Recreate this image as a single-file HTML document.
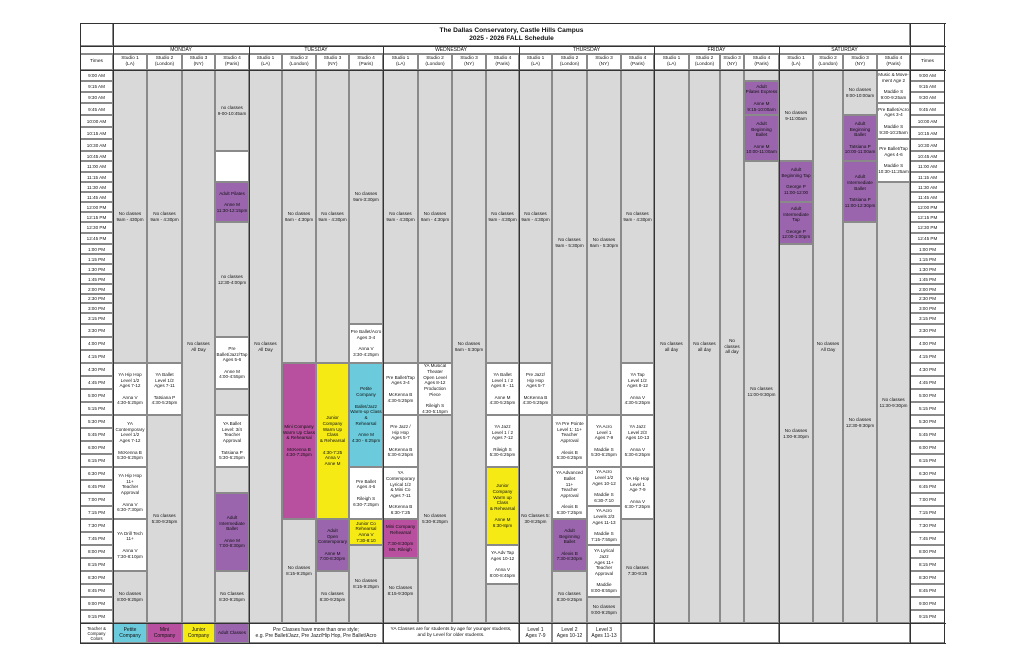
<!DOCTYPE html>
<html><head><meta charset="utf-8"><style>
*{margin:0;padding:0;box-sizing:border-box}
body{width:1024px;height:663px;background:#fff;position:relative;overflow:hidden;font-family:"Liberation Sans",sans-serif;color:#111}
.b{position:absolute;border:0.6px solid #8a8a8a;display:flex;align-items:center;justify-content:center;text-align:center;font-size:4.6px;line-height:5.7px;overflow:hidden}
.g{background:#d9d9d9}.w{background:#fff}.p{background:#9a65ad}.m{background:#b8509f}.y{background:#f5ea14}.c{background:#6bcbdc}
.t{position:absolute;border:0.6px solid #8a8a8a;background:#fff;display:flex;align-items:center;justify-content:center;font-size:4.6px}
.h{position:absolute;display:flex;align-items:center;justify-content:center;text-align:center;font-size:4.8px;line-height:5.6px;border:0.6px solid #8a8a8a;background:#fff}
.d{position:absolute;top:46.5px;height:7px;line-height:7px;font-size:5px;text-align:center;z-index:5}
.v{position:absolute;width:1.4px;background:#333;z-index:6}
.hz{position:absolute;height:1.4px;background:#333;z-index:6}
</style></head><body>
<!-- title -->
<div class="h" style="left:80px;top:23px;width:33px;height:23px"></div>
<div class="h" style="left:113px;top:23px;width:797px;height:23px;font-size:6.6px;line-height:8px;font-weight:bold">The Dallas Conservatory, Castle Hills Campus<br>2025 - 2026 FALL Schedule</div>
<div class="h" style="left:910px;top:23px;width:35px;height:23px"></div>
<!-- day row -->
<div class="h" style="left:80px;top:46px;width:865px;height:7.5px"></div>
<div class="d" style="left:113px;width:136px">MONDAY</div>
<div class="d" style="left:249px;width:134px">TUESDAY</div>
<div class="d" style="left:383px;width:136px">WEDNESDAY</div>
<div class="d" style="left:519px;width:135px">THURSDAY</div>
<div class="d" style="left:654px;width:125px">FRIDAY</div>
<div class="d" style="left:779px;width:131px">SATURDAY</div>
<!-- studio row -->
<div class="h" style="left:80px;top:53.5px;width:33px;height:16.5px">Times</div>
<div class="h" style="left:113px;top:53.5px;width:34px;height:16.5px">Studio 1<br>(LA)</div>
<div class="h" style="left:147px;top:53.5px;width:35px;height:16.5px">Studio 2<br>(London)</div>
<div class="h" style="left:182px;top:53.5px;width:33px;height:16.5px">Studio 3<br>(NY)</div>
<div class="h" style="left:215px;top:53.5px;width:34px;height:16.5px">Studio 4<br>(Paris)</div>
<div class="h" style="left:249px;top:53.5px;width:33px;height:16.5px">Studio 1<br>(LA)</div>
<div class="h" style="left:282px;top:53.5px;width:34px;height:16.5px">Studio 2<br>(London)</div>
<div class="h" style="left:316px;top:53.5px;width:33px;height:16.5px">Studio 3<br>(NY)</div>
<div class="h" style="left:349px;top:53.5px;width:34px;height:16.5px">Studio 4<br>(Paris)</div>
<div class="h" style="left:383px;top:53.5px;width:35px;height:16.5px">Studio 1<br>(LA)</div>
<div class="h" style="left:418px;top:53.5px;width:34px;height:16.5px">Studio 2<br>(London)</div>
<div class="h" style="left:452px;top:53.5px;width:34px;height:16.5px">Studio 3<br>(NY)</div>
<div class="h" style="left:486px;top:53.5px;width:33px;height:16.5px">Studio 4<br>(Paris)</div>
<div class="h" style="left:519px;top:53.5px;width:33px;height:16.5px">Studio 1<br>(LA)</div>
<div class="h" style="left:552px;top:53.5px;width:35px;height:16.5px">Studio 2<br>(London)</div>
<div class="h" style="left:587px;top:53.5px;width:34px;height:16.5px">Studio 3<br>(NY)</div>
<div class="h" style="left:621px;top:53.5px;width:33px;height:16.5px">Studio 4<br>(Paris)</div>
<div class="h" style="left:654px;top:53.5px;width:35px;height:16.5px">Studio 1<br>(LA)</div>
<div class="h" style="left:689px;top:53.5px;width:31px;height:16.5px">Studio 2<br>(London)</div>
<div class="h" style="left:720px;top:53.5px;width:24px;height:16.5px">Studio 3<br>(NY)</div>
<div class="h" style="left:744px;top:53.5px;width:35px;height:16.5px">Studio 4<br>(Paris)</div>
<div class="h" style="left:779px;top:53.5px;width:34px;height:16.5px">Studio 1<br>(LA)</div>
<div class="h" style="left:813px;top:53.5px;width:30px;height:16.5px">Studio 2<br>(London)</div>
<div class="h" style="left:843px;top:53.5px;width:34px;height:16.5px">Studio 3<br>(NY)</div>
<div class="h" style="left:877px;top:53.5px;width:33px;height:16.5px">Studio 4<br>(Paris)</div>
<div class="h" style="left:910px;top:53.5px;width:35px;height:16.5px">Times</div>

<!-- times left -->
<div class="t" style="left:80px;top:70px;width:33px;height:11px">9:00 AM</div>
<div class="t" style="left:80px;top:81px;width:33px;height:11px">9:15 AM</div>
<div class="t" style="left:80px;top:92px;width:33px;height:11px">9:30 AM</div>
<div class="t" style="left:80px;top:103px;width:33px;height:12px">9:45 AM</div>
<div class="t" style="left:80px;top:115px;width:33px;height:12px">10:00 AM</div>
<div class="t" style="left:80px;top:127px;width:33px;height:12px">10:15 AM</div>
<div class="t" style="left:80px;top:139px;width:33px;height:12px">10:30 AM</div>
<div class="t" style="left:80px;top:151px;width:33px;height:10px">10:45 AM</div>
<div class="t" style="left:80px;top:161px;width:33px;height:11px">11:00 AM</div>
<div class="t" style="left:80px;top:172px;width:33px;height:10px">11:15 AM</div>
<div class="t" style="left:80px;top:182px;width:33px;height:10px">11:30 AM</div>
<div class="t" style="left:80px;top:192px;width:33px;height:10px">11:45 AM</div>
<div class="t" style="left:80px;top:202px;width:33px;height:10px">12:00 PM</div>
<div class="t" style="left:80px;top:212px;width:33px;height:10px">12:15 PM</div>
<div class="t" style="left:80px;top:222px;width:33px;height:11px">12:30 PM</div>
<div class="t" style="left:80px;top:233px;width:33px;height:11px">12:45 PM</div>
<div class="t" style="left:80px;top:244px;width:33px;height:10px">1:00 PM</div>
<div class="t" style="left:80px;top:254px;width:33px;height:10px">1:15 PM</div>
<div class="t" style="left:80px;top:264px;width:33px;height:10px">1:30 PM</div>
<div class="t" style="left:80px;top:274px;width:33px;height:10px">1:45 PM</div>
<div class="t" style="left:80px;top:284px;width:33px;height:10px">2:00 PM</div>
<div class="t" style="left:80px;top:294px;width:33px;height:9px">2:30 PM</div>
<div class="t" style="left:80px;top:303px;width:33px;height:10px">3:00 PM</div>
<div class="t" style="left:80px;top:313px;width:33px;height:11px">3:15 PM</div>
<div class="t" style="left:80px;top:324px;width:33px;height:13px">3:30 PM</div>
<div class="t" style="left:80px;top:337px;width:33px;height:13px">4:00 PM</div>
<div class="t" style="left:80px;top:350px;width:33px;height:13px">4:15 PM</div>
<div class="t" style="left:80px;top:363px;width:33px;height:13px">4:30 PM</div>
<div class="t" style="left:80px;top:376px;width:33px;height:13px">4:45 PM</div>
<div class="t" style="left:80px;top:389px;width:33px;height:13px">5:00 PM</div>
<div class="t" style="left:80px;top:402px;width:33px;height:13px">5:15 PM</div>
<div class="t" style="left:80px;top:415px;width:33px;height:13px">5:30 PM</div>
<div class="t" style="left:80px;top:428px;width:33px;height:13px">5:45 PM</div>
<div class="t" style="left:80px;top:441px;width:33px;height:13px">6:00 PM</div>
<div class="t" style="left:80px;top:454px;width:33px;height:13px">6:15 PM</div>
<div class="t" style="left:80px;top:467px;width:33px;height:13px">6:30 PM</div>
<div class="t" style="left:80px;top:480px;width:33px;height:13px">6:45 PM</div>
<div class="t" style="left:80px;top:493px;width:33px;height:13px">7:00 PM</div>
<div class="t" style="left:80px;top:506px;width:33px;height:13px">7:15 PM</div>
<div class="t" style="left:80px;top:519px;width:33px;height:13px">7:30 PM</div>
<div class="t" style="left:80px;top:532px;width:33px;height:13px">7:45 PM</div>
<div class="t" style="left:80px;top:545px;width:33px;height:13px">8:00 PM</div>
<div class="t" style="left:80px;top:558px;width:33px;height:13px">8:15 PM</div>
<div class="t" style="left:80px;top:571px;width:33px;height:13px">8:30 PM</div>
<div class="t" style="left:80px;top:584px;width:33px;height:13px">8:45 PM</div>
<div class="t" style="left:80px;top:597px;width:33px;height:13px">9:00 PM</div>
<div class="t" style="left:80px;top:610px;width:33px;height:13px">9:15 PM</div>
<!-- times right -->
<div class="t" style="left:910px;top:70px;width:35px;height:11px">9:00 AM</div>
<div class="t" style="left:910px;top:81px;width:35px;height:11px">9:15 AM</div>
<div class="t" style="left:910px;top:92px;width:35px;height:11px">9:30 AM</div>
<div class="t" style="left:910px;top:103px;width:35px;height:12px">9:45 AM</div>
<div class="t" style="left:910px;top:115px;width:35px;height:12px">10:00 AM</div>
<div class="t" style="left:910px;top:127px;width:35px;height:12px">10:15 AM</div>
<div class="t" style="left:910px;top:139px;width:35px;height:12px">10:30 AM</div>
<div class="t" style="left:910px;top:151px;width:35px;height:10px">10:45 AM</div>
<div class="t" style="left:910px;top:161px;width:35px;height:11px">11:00 AM</div>
<div class="t" style="left:910px;top:172px;width:35px;height:10px">11:15 AM</div>
<div class="t" style="left:910px;top:182px;width:35px;height:10px">11:30 AM</div>
<div class="t" style="left:910px;top:192px;width:35px;height:10px">11:45 AM</div>
<div class="t" style="left:910px;top:202px;width:35px;height:10px">12:00 PM</div>
<div class="t" style="left:910px;top:212px;width:35px;height:10px">12:15 PM</div>
<div class="t" style="left:910px;top:222px;width:35px;height:11px">12:30 PM</div>
<div class="t" style="left:910px;top:233px;width:35px;height:11px">12:45 PM</div>
<div class="t" style="left:910px;top:244px;width:35px;height:10px">1:00 PM</div>
<div class="t" style="left:910px;top:254px;width:35px;height:10px">1:15 PM</div>
<div class="t" style="left:910px;top:264px;width:35px;height:10px">1:30 PM</div>
<div class="t" style="left:910px;top:274px;width:35px;height:10px">1:45 PM</div>
<div class="t" style="left:910px;top:284px;width:35px;height:10px">2:00 PM</div>
<div class="t" style="left:910px;top:294px;width:35px;height:9px">2:30 PM</div>
<div class="t" style="left:910px;top:303px;width:35px;height:10px">3:00 PM</div>
<div class="t" style="left:910px;top:313px;width:35px;height:11px">3:15 PM</div>
<div class="t" style="left:910px;top:324px;width:35px;height:13px">3:30 PM</div>
<div class="t" style="left:910px;top:337px;width:35px;height:13px">4:00 PM</div>
<div class="t" style="left:910px;top:350px;width:35px;height:13px">4:15 PM</div>
<div class="t" style="left:910px;top:363px;width:35px;height:13px">4:30 PM</div>
<div class="t" style="left:910px;top:376px;width:35px;height:13px">4:45 PM</div>
<div class="t" style="left:910px;top:389px;width:35px;height:13px">5:00 PM</div>
<div class="t" style="left:910px;top:402px;width:35px;height:13px">5:15 PM</div>
<div class="t" style="left:910px;top:415px;width:35px;height:13px">5:30 PM</div>
<div class="t" style="left:910px;top:428px;width:35px;height:13px">5:45 PM</div>
<div class="t" style="left:910px;top:441px;width:35px;height:13px">6:00 PM</div>
<div class="t" style="left:910px;top:454px;width:35px;height:13px">6:15 PM</div>
<div class="t" style="left:910px;top:467px;width:35px;height:13px">6:30 PM</div>
<div class="t" style="left:910px;top:480px;width:35px;height:13px">6:45 PM</div>
<div class="t" style="left:910px;top:493px;width:35px;height:13px">7:00 PM</div>
<div class="t" style="left:910px;top:506px;width:35px;height:13px">7:15 PM</div>
<div class="t" style="left:910px;top:519px;width:35px;height:13px">7:30 PM</div>
<div class="t" style="left:910px;top:532px;width:35px;height:13px">7:45 PM</div>
<div class="t" style="left:910px;top:545px;width:35px;height:13px">8:00 PM</div>
<div class="t" style="left:910px;top:558px;width:35px;height:13px">8:15 PM</div>
<div class="t" style="left:910px;top:571px;width:35px;height:13px">8:30 PM</div>
<div class="t" style="left:910px;top:584px;width:35px;height:13px">8:45 PM</div>
<div class="t" style="left:910px;top:597px;width:35px;height:13px">9:00 PM</div>
<div class="t" style="left:910px;top:610px;width:35px;height:13px">9:15 PM</div>

<!-- MONDAY -->
<div class="b g" style="left:113px;top:70px;width:34px;height:293px">No classes<br>9am - 430pm</div>
<div class="b w" style="left:113px;top:363px;width:34px;height:52px">YA Hip Hop<br>Level 1/2<br>Ages 7-12<br><br>Anna V<br>4:30-5:25pm</div>
<div class="b w" style="left:113px;top:415px;width:34px;height:52px">YA<br>Contemporary<br>Level 1/2<br>Ages 7-12<br><br>McKenna B<br>5:30-6:25pm</div>
<div class="b w" style="left:113px;top:467px;width:34px;height:52px">YA Hip Hop<br>11+<br>Teacher<br>Approval<br><br>Anna V<br>6:30-7:30pm</div>
<div class="b w" style="left:113px;top:519px;width:34px;height:52px">YA Drill Tech<br>11+<br><br>Anna V<br>7:30-8:10pm</div>
<div class="b g" style="left:113px;top:571px;width:34px;height:52px">No classes<br>8:00-9:25pm</div>
<div class="b g" style="left:147px;top:70px;width:35px;height:293px">No classes<br>9am - 4:30pm</div>
<div class="b w" style="left:147px;top:363px;width:35px;height:52px">YA Ballet<br>Level 1/2<br>Ages 7-11<br><br>Tatsiana P<br>4:30-5:25pm</div>
<div class="b g" style="left:147px;top:415px;width:35px;height:208px">No classes<br>5:30-9:25pm</div>
<div class="b g" style="left:182px;top:70px;width:33px;height:553px">No classes<br>All Day</div>
<div class="b g" style="left:215px;top:70px;width:34px;height:81px">no classes<br>9-00-10:45am</div>
<div class="b w" style="left:215px;top:151px;width:34px;height:31px"></div>
<div class="b p" style="left:215px;top:182px;width:34px;height:40px">Adult Pilates<br><br>Anne M<br>11:30-12:15pm</div>
<div class="b g" style="left:215px;top:222px;width:34px;height:115px">no classes<br>12:30-4:00pm</div>
<div class="b w" style="left:215px;top:337px;width:34px;height:52px">Pre<br>Ballet/Jazz/Tap<br>Ages 5-6<br><br>Anne M<br>4:00-4:55pm</div>
<div class="b g" style="left:215px;top:389px;width:34px;height:26px"></div>
<div class="b w" style="left:215px;top:415px;width:34px;height:52px">YA Ballet<br>Level: 3/4<br>Teacher<br>Approval<br><br>Tatsiana P<br>5:30-6:25pm</div>
<div class="b g" style="left:215px;top:467px;width:34px;height:26px"></div>
<div class="b p" style="left:215px;top:493px;width:34px;height:78px">Adult<br>Intermediate<br>Ballet<br><br>Anne M<br>7:00-8:30pm</div>
<div class="b g" style="left:215px;top:571px;width:34px;height:52px">No Classes<br>8:30-9:25pm</div>

<!-- TUESDAY -->
<div class="b g" style="left:249px;top:70px;width:33px;height:553px">No classes<br>All Day</div>
<div class="b g" style="left:282px;top:70px;width:34px;height:293px">No classes<br>9am - 4:30pm</div>
<div class="b m" style="left:282px;top:363px;width:34px;height:156px">Mini Company<br>Warm Up Class<br>&amp; Rehearsal<br><br>McKenna B<br>4:30-7:25pm</div>
<div class="b g" style="left:282px;top:519px;width:34px;height:104px">No classes<br>8:15-9:25pm</div>
<div class="b g" style="left:316px;top:70px;width:33px;height:293px">No classes<br>9am - 4:30pm</div>
<div class="b y" style="left:316px;top:363px;width:33px;height:156px">Junior<br>Company<br>Warm Up Class<br>&amp; Rehearsal<br><br>4:30-7:25<br>Anna V<br>Anne M</div>
<div class="b p" style="left:316px;top:519px;width:33px;height:52px">Adult<br>Open<br>Contemporary<br><br>Anne M<br>7:00-8:30pm</div>
<div class="b g" style="left:316px;top:571px;width:33px;height:52px">No classes<br>8:30-9:25pm</div>
<div class="b g" style="left:349px;top:70px;width:34px;height:254px">No classes<br>9am-3:30pm</div>
<div class="b w" style="left:349px;top:324px;width:34px;height:39px">Pre Ballet/Acro<br>Ages 3-4<br><br>Anna V<br>3:30-4:25pm</div>
<div class="b c" style="left:349px;top:363px;width:34px;height:104px">Petite<br>Company<br><br>Ballet/Jazz<br>Warm-up Class<br>&amp;<br>Rehearsal<br><br>Anne M<br>4:30 - 6:25pm</div>
<div class="b w" style="left:349px;top:467px;width:34px;height:52px">Pre Ballet<br>Ages 4-6<br><br>Rileigh S<br>6:30-7:25pm</div>
<div class="b y" style="left:349px;top:519px;width:34px;height:26px">Junior Co<br>Rehearsal<br>Anna V<br>7:30-8:10</div>
<div class="b g" style="left:349px;top:545px;width:34px;height:78px">No classes<br>8:15-9:25pm</div>

<!-- WEDNESDAY -->
<div class="b g" style="left:383px;top:70px;width:35px;height:293px">No classes<br>9am - 4:30pm</div>
<div class="b w" style="left:383px;top:363px;width:35px;height:52px">Pre Ballet/Tap<br>Ages 3-4<br><br>McKenna B<br>4:30-5:25pm</div>
<div class="b w" style="left:383px;top:415px;width:35px;height:52px">Pre Jazz /<br>Hip Hop<br>Ages 5-7<br><br>McKenna B<br>5:30-6:25pm</div>
<div class="b w" style="left:383px;top:467px;width:35px;height:52px">YA Contemporary<br>Lyrical 1/2<br>&amp; Mini Co<br>Ages 7-11<br><br>McKenna B<br>6:30-7:25</div>
<div class="b m" style="left:383px;top:519px;width:35px;height:39px">Mini Company<br>Rehearsal<br><br>7:30-8:30pm<br>Ms. Rileigh</div>
<div class="b g" style="left:383px;top:558px;width:35px;height:65px">No Classes<br>8:15-9:30pm</div>
<div class="b g" style="left:418px;top:70px;width:34px;height:293px">No classes<br>9am - 4:30pm</div>
<div class="b w" style="left:418px;top:363px;width:34px;height:52px">YA Musical<br>Theater<br>Open Level<br>Ages 8-12<br>Production<br>Piece<br><br>Rileigh S<br>4:30-5:15pm</div>
<div class="b g" style="left:418px;top:415px;width:34px;height:208px">No classes<br>5:30-9:25pm</div>
<div class="b g" style="left:452px;top:70px;width:34px;height:553px">No classes<br>9am - 5:30pm</div>
<div class="b g" style="left:486px;top:70px;width:33px;height:293px">No classes<br>9am - 4:30pm</div>
<div class="b w" style="left:486px;top:363px;width:33px;height:52px">YA Ballet<br>Level 1 / 2<br>Ages 8 - 11<br><br>Anne M<br>4:30-5:25pm</div>
<div class="b w" style="left:486px;top:415px;width:33px;height:52px">YA Jazz<br>Level 1 / 2<br>Ages 7-12<br><br>Rileigh S<br>5:30-6:25pm</div>
<div class="b y" style="left:486px;top:467px;width:33px;height:78px">Junior<br>Company<br>Warm up Class<br>&amp; Rehearsal<br><br>Anne M<br>6:30-8pm</div>
<div class="b w" style="left:486px;top:545px;width:33px;height:39px">YA Adv Tap<br>Ages 10-12<br><br>Anna V<br>8:00-8:45pm</div>
<div class="b g" style="left:486px;top:584px;width:33px;height:39px"></div>

<!-- THURSDAY -->
<div class="b g" style="left:519px;top:70px;width:33px;height:293px">No classes<br>9am - 4:30pm</div>
<div class="b w" style="left:519px;top:363px;width:33px;height:52px">Pre Jazz/<br>Hip Hop<br>Ages 5-7<br><br>McKenna B<br>4:30-5:25pm</div>
<div class="b g" style="left:519px;top:415px;width:33px;height:208px">No Classes 5:<br>30-8:25pm</div>
<div class="b g" style="left:552px;top:70px;width:35px;height:345px">No classes<br>9am - 5:30pm</div>
<div class="b w" style="left:552px;top:415px;width:35px;height:52px">YA Pre Pointe<br>Level 1: 11+<br>Teacher<br>Approval<br><br>Alexis B<br>5:30-6:25pm</div>
<div class="b w" style="left:552px;top:467px;width:35px;height:52px">YA Advanced<br>Ballet<br>11+<br>Teacher<br>Approval<br><br>Alexis B<br>6:30-7:25pm</div>
<div class="b p" style="left:552px;top:519px;width:35px;height:52px">Adult<br>Beginning<br>Ballet<br><br>Alexis B<br>7:30-8:30pm</div>
<div class="b g" style="left:552px;top:571px;width:35px;height:52px">No classes<br>8:30-9:25pm</div>
<div class="b g" style="left:587px;top:70px;width:34px;height:345px">No classes<br>9am - 5:30pm</div>
<div class="b w" style="left:587px;top:415px;width:34px;height:52px">YA Acro<br>Level 1<br>Ages 7-9<br><br>Maddie S<br>5:30-6:25pm</div>
<div class="b w" style="left:587px;top:467px;width:34px;height:39px">YA Acro<br>Level 1/2<br>Ages 10-12<br><br>Maddie S<br>6:30-7:10</div>
<div class="b w" style="left:587px;top:506px;width:34px;height:39px">YA Acro<br>Levels 2/3<br>Ages 11-13<br><br>Maddie S<br>7:15-7:55pm</div>
<div class="b w" style="left:587px;top:545px;width:34px;height:52px">YA Lyrical<br>Jazz<br>Ages 11+<br>Teacher<br>Approval<br><br>Maddie<br>8:00-8:55pm</div>
<div class="b g" style="left:587px;top:597px;width:34px;height:26px">No classes<br>9:00-9:25pm</div>
<div class="b g" style="left:621px;top:70px;width:33px;height:293px">No classes<br>9am - 4:30pm</div>
<div class="b w" style="left:621px;top:363px;width:33px;height:52px">YA Tap<br>Level 1/2<br>Ages 8-12<br><br>Anna V<br>4:30-5:25pm</div>
<div class="b w" style="left:621px;top:415px;width:33px;height:52px">YA Jazz<br>Level 2/3<br>Ages 10-13<br><br>Anna V<br>5:30-6:25pm</div>
<div class="b w" style="left:621px;top:467px;width:33px;height:52px">YA Hip Hop<br>Level 1<br>Age 7-9<br><br>Anna V<br>6:30-7:25pm</div>
<div class="b g" style="left:621px;top:519px;width:33px;height:104px">No classes<br>7:30-9:25</div>

<!-- FRIDAY -->
<div class="b g" style="left:654px;top:70px;width:35px;height:553px">No classes<br>all day</div>
<div class="b g" style="left:689px;top:70px;width:31px;height:553px">No classes<br>all day</div>
<div class="b g" style="left:720px;top:70px;width:24px;height:553px">No classes<br>all day</div>
<div class="b g" style="left:744px;top:70px;width:35px;height:11px"></div>
<div class="b p" style="left:744px;top:81px;width:35px;height:34px">Adult<br>Pilates Express<br><br>Anne M<br>9:15-10:00am</div>
<div class="b p" style="left:744px;top:115px;width:35px;height:46px">Adult<br>Beginning<br>Ballet<br><br>Anne M<br>10:00-11:00am</div>
<div class="b g" style="left:744px;top:161px;width:35px;height:462px">No classes<br>11:00-9:30pm</div>

<!-- SATURDAY -->
<div class="b g" style="left:779px;top:70px;width:34px;height:91px">No classes<br>9-11:00am</div>
<div class="b p" style="left:779px;top:161px;width:34px;height:41px">Adult<br>Beginning Tap<br><br>George P<br>11:00-12:00</div>
<div class="b p" style="left:779px;top:202px;width:34px;height:42px">Adult<br>Intermediate<br>Tap<br><br>George P<br>12:00-1:00pm</div>
<div class="b g" style="left:779px;top:244px;width:34px;height:379px">No classes<br>1:00-9:30pm</div>
<div class="b g" style="left:813px;top:70px;width:30px;height:553px">No classes<br>All Day</div>
<div class="b g" style="left:843px;top:70px;width:34px;height:45px">No classes<br>9:00-10:00am</div>
<div class="b p" style="left:843px;top:115px;width:34px;height:46px">Adult<br>Beginning<br>Ballet<br><br>Tatsiana P<br>10:00-11:00am</div>
<div class="b p" style="left:843px;top:161px;width:34px;height:61px">Adult<br>Intermediate<br>Ballet<br><br>Tatsiana P<br>11:00-12:30pm</div>
<div class="b g" style="left:843px;top:222px;width:34px;height:401px">No classes<br>12:30-9:30pm</div>
<div class="b w" style="left:877px;top:70px;width:33px;height:33px">Music &amp; Move-<br>ment Age 2<br><br>Maddie S<br>9:00-9:25am</div>
<div class="b w" style="left:877px;top:103px;width:33px;height:36px">Pre Ballet/Acro<br>Ages 3-4<br><br>Maddie S<br>9:30-10:25am</div>
<div class="b w" style="left:877px;top:139px;width:33px;height:43px">Pre Ballet/Tap<br>Ages 4-6<br><br>Maddie S<br>10:30-11:25am</div>
<div class="b g" style="left:877px;top:182px;width:33px;height:441px">No classes<br>11:30-9:30pm</div>

<!-- footer -->
<div class="b w" style="left:80px;top:623px;width:33px;height:20px;font-size:4.2px;line-height:5px">Teacher &amp;<br>Company<br>Colors</div>
<div class="b c" style="left:113px;top:623px;width:34px;height:20px;font-size:5px;line-height:6px">Petite<br>Company</div>
<div class="b m" style="left:147px;top:623px;width:35px;height:20px;font-size:5px;line-height:6px">Mini<br>Company</div>
<div class="b y" style="left:182px;top:623px;width:33px;height:20px;font-size:5px;line-height:6px">Junior<br>Company</div>
<div class="b p" style="left:215px;top:623px;width:34px;height:20px">Adult Classes</div>
<div class="b w" style="left:249px;top:623px;width:134px;height:20px;font-size:5px;line-height:6px">Pre Classes have more than one style;<br>e.g. Pre Ballet/Jazz, Pre Jazz/Hip Hop, Pre Ballet/Acro</div>
<div class="b w" style="left:383px;top:623px;width:136px;height:20px;font-size:4.8px;line-height:6px">YA Classes are for students by age for younger students,<br>and by Level for older students.</div>
<div class="b w" style="left:519px;top:623px;width:33px;height:20px;font-size:5px;line-height:6px">Level 1<br>Ages 7-9</div>
<div class="b w" style="left:552px;top:623px;width:35px;height:20px;font-size:5px;line-height:6px">Level 2<br>Ages 10-12</div>
<div class="b w" style="left:587px;top:623px;width:34px;height:20px;font-size:5px;line-height:6px">Level 3<br>Ages 11-13</div>
<div class="b w" style="left:621px;top:623px;width:33px;height:20px"></div>
<div class="b w" style="left:654px;top:623px;width:125px;height:20px"></div>
<div class="b w" style="left:779px;top:623px;width:131px;height:20px"></div>
<div class="b w" style="left:910px;top:623px;width:35px;height:20px"></div>

<!-- thick lines -->
<div class="v" style="left:79.5px;top:23px;height:620px"></div>
<div class="v" style="left:112.5px;top:23px;height:620px"></div>
<div class="v" style="left:248.5px;top:46px;height:597px"></div>
<div class="v" style="left:382.5px;top:46px;height:597px"></div>
<div class="v" style="left:518.5px;top:46px;height:597px"></div>
<div class="v" style="left:653.5px;top:46px;height:597px"></div>
<div class="v" style="left:778.5px;top:46px;height:597px"></div>
<div class="v" style="left:909.5px;top:23px;height:620px"></div>
<div class="v" style="left:944px;top:23px;height:621px"></div>
<div class="hz" style="left:79.5px;top:22.5px;width:866px"></div>
<div class="hz" style="left:79.5px;top:45.5px;width:866px;height:1px"></div>
<div class="hz" style="left:79.5px;top:69.5px;width:866px"></div>
<div class="hz" style="left:79.5px;top:622.5px;width:866px"></div>
<div class="hz" style="left:79.5px;top:642.5px;width:866px"></div>
</body></html>
